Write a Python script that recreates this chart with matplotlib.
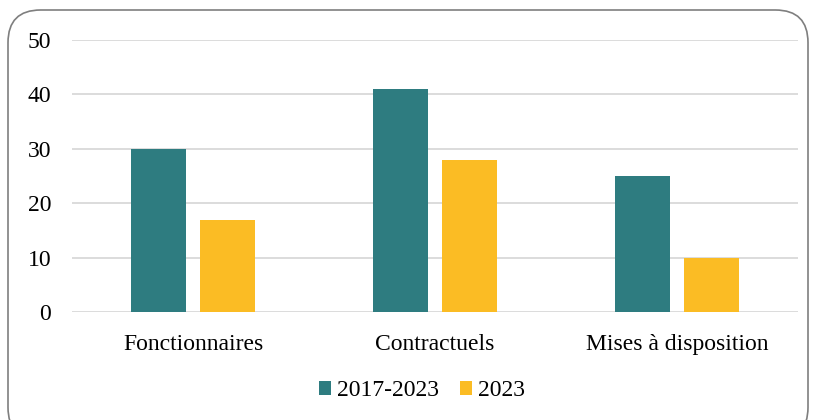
import numpy as np
import matplotlib
matplotlib.use("Agg")
import matplotlib.pyplot as plt
from matplotlib.patches import FancyBboxPatch

categories = ["Fonctionnaires", "Contractuels", "Mises à disposition"]
series_names = ["2017-2023", "2023"]
values_2017_2023 = [30, 41, 25]
values_2023 = [17, 28, 10]
colors = ["#2E7C80", "#FBBC24"]

plt.rcParams["font.family"] = ["Liberation Serif", "DejaVu Serif"]

fig = plt.figure(figsize=(8.16, 4.2), dpi=100)
ax = fig.add_axes([72 / 816, 1 - 312 / 420, 726 / 816, 272 / 420])

x = np.arange(len(categories))
width = 0.23
offset = 0.143
ax.bar(x - offset, values_2017_2023, width, color=colors[0], label=series_names[0], zorder=3)
ax.bar(x + offset, values_2023, width, color=colors[1], label=series_names[1], zorder=3)

ax.set_xlim(-0.5, len(categories) - 0.5)
ax.set_ylim(0, 50)
ax.set_yticks(range(0, 51, 10))
ax.set_xticks(x)
ax.set_xticklabels(categories)
ax.tick_params(axis="both", length=0, labelsize=17, colors="#000000")
ax.tick_params(axis="y", pad=15)
ax.tick_params(axis="x", pad=16)
ax.yaxis.grid(True, color="#d9d9d9", linewidth=1.3, zorder=0)
for s in ax.spines.values():
    s.set_visible(False)

ax.legend(loc="center", bbox_to_anchor=(422 / 816, 1 - 391 / 420),
          bbox_transform=fig.transFigure, ncol=2, frameon=False,
          fontsize=17, handlelength=0.5, handleheight=0.5,
          handletextpad=0.25, columnspacing=0.9)

border = FancyBboxPatch((8 / 816, -20 / 420), 800 / 816, 430 / 420,
                        boxstyle="round,pad=0,rounding_size=0.04",
                        transform=fig.transFigure, fill=False,
                        edgecolor="#7f7f7f", linewidth=1.2,
                        mutation_aspect=816 / 420)
fig.patches.append(border)

fig.savefig("out.png", dpi=100)
